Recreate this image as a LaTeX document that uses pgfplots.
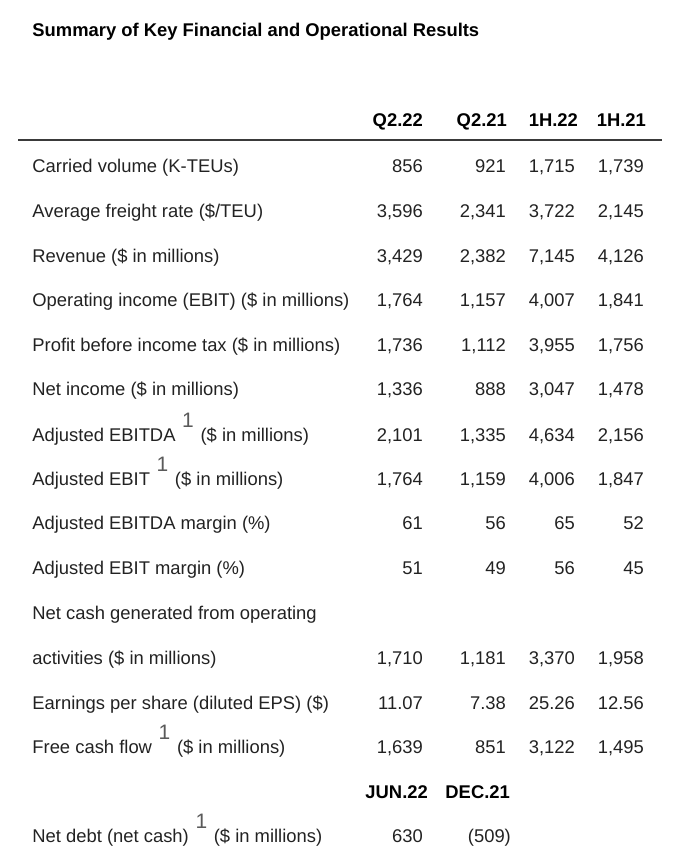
\documentclass[border=0pt]{standalone}
\usepackage{pgfplots}
\pgfplotsset{compat=1.18}
\usepackage{fontspec}
\setmainfont{Liberation Sans}
\definecolor{txt}{HTML}{222222}
\definecolor{supgray}{HTML}{5A5A5A}
\definecolor{rule}{HTML}{3A3A3A}
\newcommand{\fnone}{\hspace{5pt}\smash{\raisebox{10.5pt}{\fontsize{15.7}{16}\selectfont\color{supgray}1}}\hspace{5pt}}
\newcommand{\tf}{\fontsize{13.8}{16}\selectfont}
\begin{document}
\begin{tikzpicture}
\begin{axis}[
  scale only axis, width=507.75pt, height=644.25pt,
  xmin=0, xmax=677, ymin=0, ymax=859, y dir=reverse,
  axis line style={draw=none}, major tick length=0pt,
  xtick=\empty,
  ytick={166,211,256,300,345,389,435,479,523,568,613,658,703,747,836},
  yticklabels={
    {Carried volume (K-TEUs)},
    {Average freight rate (\$/TEU)},
    {Revenue (\$ in millions)},
    {Operating income (EBIT) (\$ in millions)},
    {Profit before income tax (\$ in millions)},
    {Net income (\$ in millions)},
    {Adjusted EBITDA\fnone(\$ in millions)},
    {Adjusted EBIT\fnone(\$ in millions)},
    {Adjusted EBITDA margin (\%)},
    {Adjusted EBIT margin (\%)},
    {Net cash generated from operating},
    {activities (\$ in millions)},
    {Earnings per share (diluted EPS) (\$)},
    {Free cash flow\fnone(\$ in millions)},
    {Net debt (net cash)\fnone(\$ in millions)}},
  yticklabel style={anchor=base west, xshift=24pt, yshift=-4.9pt, inner sep=0pt, font=\tf, text=txt},
  clip=false,
  /pgf/number format/assume math mode=true,
  /pgf/number format/fixed, /pgf/number format/precision=2,
  /pgf/number format/1000 sep={,},
  every node near coord/.append style={anchor=base east, yshift=-4.9pt, inner sep=0pt, font=\tf, text=txt},
]
% rule under header
\addplot[rule, line width=1.3pt] coordinates {(18,140) (662,140)};
% headers
\addplot[draw=none, nodes near coords, point meta=explicit symbolic,
  every node near coord/.append style={font=\tf\bfseries, text=black}]
  table[x=x, y=y, meta=h] {
x y h
423 120 Q2.22
507 120 Q2.21
578 120 1H.22
646 120 1H.21
428 792 JUN.22
510 792 DEC.21
};
% Q2.22
\addplot[draw=none, nodes near coords, point meta=explicit] table[x=x, y=y, meta=v] {
x y v
423 166 856
423 211 3596
423 256 3429
423 300 1764
423 345 1736
423 389 1336
423 435 2101
423 479 1764
423 523 61
423 568 51
423 658 1710
423 703 11.07
423 747 1639
423 836 630
};
% Q2.21
\addplot[draw=none, nodes near coords, point meta=explicit] table[x=x, y=y, meta=v] {
x y v
506 166 921
506 211 2341
506 256 2382
506 300 1157
506 345 1112
506 389 888
506 435 1335
506 479 1159
506 523 56
506 568 49
506 658 1181
506 703 7.38
506 747 851
};
% Dec.21 net debt (net cash shown in parentheses)
\addplot[draw=none, nodes near coords={(\pgfmathprintnumber{509})}, point meta=explicit] table[x=x, y=y, meta=v] {
x y v
511 836 -509
};
% 1H.22
\addplot[draw=none, nodes near coords, point meta=explicit] table[x=x, y=y, meta=v] {
x y v
575 166 1715
575 211 3722
575 256 7145
575 300 4007
575 345 3955
575 389 3047
575 435 4634
575 479 4006
575 523 65
575 568 56
575 658 3370
575 703 25.26
575 747 3122
};
% 1H.21
\addplot[draw=none, nodes near coords, point meta=explicit] table[x=x, y=y, meta=v] {
x y v
644 166 1739
644 211 2145
644 256 4126
644 300 1841
644 345 1756
644 389 1478
644 435 2156
644 479 1847
644 523 52
644 568 45
644 658 1958
644 703 12.56
644 747 1495
};
\node[anchor=base west, yshift=-4.9pt, inner sep=0pt, font=\tf\bfseries, text=black] at (axis cs:32,30) {Summary of Key Financial and Operational Results};
\end{axis}
\end{tikzpicture}
\end{document}
